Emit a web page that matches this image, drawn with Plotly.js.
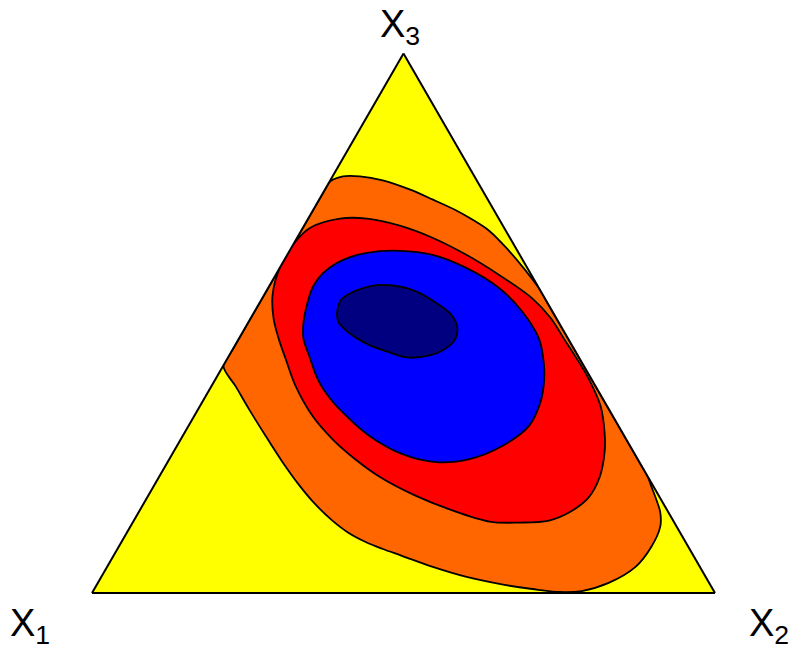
<!DOCTYPE html>
<html>
<head>
<meta charset="utf-8">
<script src="https://cdn.plot.ly/plotly-3.0.1.min.js"></script>
<style>
  html, body { margin: 0; padding: 0; background: #ffffff; }
  #chart { width: 790px; height: 654px; }
</style>
</head>
<body>
<div id="chart"></div>
<script>
// Contour levels of a density on the simplex X1 + X2 + X3 = 1.
// Each level is a closed outline given as composition fractions.

// Level 1 (orange)
const orangeX1 = [0.40, 0.30, 0.2687, 0.2519, 0.2359, 0.2109, 0.1837, 0.1509, 0.1162, 0.0888, 0.0607, 0.0435, 0.0268, 0.0135, 0.0051, 0.0, 0.0, 0.0, 0.0, 0.0, 0.0033, 0.0075, 0.0132, 0.0263, 0.0592, 0.1033, 0.1614, 0.2119, 0.2495, 0.2896, 0.3377, 0.3838, 0.4287, 0.4680, 0.4933, 0.5140, 0.5326, 0.5470, 0.5592, 0.5677, 0.5728, 0.5757, 0.5776, 0.5778, 0.5784, 0.55, 0.40];
const orangeX2 = [0.0, 0.0, 0.0, 0.0, 0.001, 0.0167, 0.0439, 0.0842, 0.1357, 0.1817, 0.2303, 0.2643, 0.3016, 0.3522, 0.3979, 0.4347, 0.46, 0.60, 0.76, 0.7836, 0.7989, 0.8190, 0.8375, 0.8506, 0.8550, 0.8482, 0.8199, 0.7844, 0.7486, 0.7029, 0.6455, 0.5863, 0.5228, 0.4630, 0.4246, 0.3909, 0.3555, 0.3187, 0.2766, 0.2308, 0.1847, 0.1333, 0.0810, 0.0397, 0.0, 0.0, 0.0];
const orangeX3 = [0.60, 0.70, 0.7313, 0.7481, 0.7631, 0.7724, 0.7724, 0.7649, 0.7481, 0.7295, 0.7090, 0.6922, 0.6716, 0.6343, 0.5970, 0.5653, 0.54, 0.40, 0.24, 0.2164, 0.1978, 0.1735, 0.1493, 0.1231, 0.0858, 0.0485, 0.0187, 0.0037, 0.0019, 0.0075, 0.0168, 0.0299, 0.0485, 0.0690, 0.0821, 0.0951, 0.1119, 0.1343, 0.1642, 0.2015, 0.2425, 0.2910, 0.3414, 0.3825, 0.4216, 0.45, 0.60];

// Level 2 (red)
const redX1 = [0.4341, 0.3974, 0.3526, 0.3110, 0.2548, 0.2117, 0.1656, 0.1242, 0.0857, 0.0517, 0.0205, 0.0089, 0.0068, 0.0047, 0.0042, 0.0103, 0.0280, 0.0466, 0.0779, 0.1142, 0.1559, 0.1994, 0.2490, 0.2959, 0.3484, 0.3912, 0.4281, 0.4535, 0.4715, 0.4820, 0.4813, 0.4720, 0.4645, 0.4539, 0.4341];
const redX2 = [0.0137, 0.0, 0.0, 0.0118, 0.0512, 0.0943, 0.1534, 0.2172, 0.2874, 0.3587, 0.4329, 0.4818, 0.5212, 0.5606, 0.5984, 0.6427, 0.6735, 0.6922, 0.7075, 0.7086, 0.6930, 0.6663, 0.6204, 0.5716, 0.4967, 0.4278, 0.3592, 0.2984, 0.2431, 0.1896, 0.1344, 0.0933, 0.0635, 0.0368, 0.0137];
const redX3 = [0.5522, 0.6026, 0.6474, 0.6772, 0.6940, 0.6940, 0.6810, 0.6586, 0.6269, 0.5896, 0.5466, 0.5093, 0.4720, 0.4347, 0.3974, 0.3470, 0.2985, 0.2612, 0.2146, 0.1772, 0.1511, 0.1343, 0.1306, 0.1325, 0.1549, 0.1810, 0.2127, 0.2481, 0.2854, 0.3284, 0.3843, 0.4347, 0.4720, 0.5093, 0.5522];

// Level 3 (blue)
const blueX1 = [0.4107, 0.3857, 0.3603, 0.3322, 0.2882, 0.2434, 0.1890, 0.1399, 0.0979, 0.0639, 0.0486, 0.0467, 0.0620, 0.0806, 0.1056, 0.1436, 0.2053, 0.2701, 0.3256, 0.3761, 0.4104, 0.4285, 0.4375, 0.4398, 0.4319, 0.4247, 0.4107];
const blueX2 = [0.0893, 0.0770, 0.0707, 0.0745, 0.0943, 0.1260, 0.1767, 0.2332, 0.2995, 0.3708, 0.4290, 0.4813, 0.5126, 0.5313, 0.5437, 0.5467, 0.5223, 0.4818, 0.4319, 0.3646, 0.2967, 0.2413, 0.2024, 0.1665, 0.1297, 0.1033, 0.0893];
const blueX3 = [0.5, 0.5373, 0.5690, 0.5933, 0.6175, 0.6306, 0.6343, 0.6269, 0.6026, 0.5653, 0.5224, 0.4720, 0.4254, 0.3881, 0.3507, 0.3097, 0.2724, 0.2481, 0.2425, 0.2593, 0.2929, 0.3302, 0.3601, 0.3937, 0.4384, 0.4720, 0.5];

// Level 4 (navy, the mode region)
const navyX1 = [0.3452, 0.3312, 0.3145, 0.2881, 0.2525, 0.2044, 0.1753, 0.1649, 0.1682, 0.1840, 0.2126, 0.2380, 0.2765, 0.3028, 0.3243, 0.3385, 0.3479, 0.3531, 0.3452];
const navyX2 = [0.1324, 0.1278, 0.1333, 0.1485, 0.1766, 0.2340, 0.2911, 0.3220, 0.3411, 0.3477, 0.3378, 0.3217, 0.2869, 0.2494, 0.2167, 0.1895, 0.1670, 0.1432, 0.1324];
const navyX3 = [0.5224, 0.5410, 0.5522, 0.5634, 0.5709, 0.5616, 0.5336, 0.5131, 0.4907, 0.4683, 0.4496, 0.4403, 0.4366, 0.4478, 0.4590, 0.4720, 0.4851, 0.5037, 0.5224];

const levels = [
  { x1: orangeX1, x2: orangeX2, x3: orangeX3, color: '#ff6600' },
  { x1: redX1,    x2: redX2,    x3: redX3,    color: '#ff0000' },
  { x1: blueX1,   x2: blueX2,   x3: blueX3,   color: '#0000ff' },
  { x1: navyX1,   x2: navyX2,   x3: navyX3,   color: '#000080' }
];

const axisLabels = ['X<sub>1</sub>', 'X<sub>2</sub>', 'X<sub>3</sub>'];

// Ternary mapping: a = X3 (top), b = X1 (bottom left), c = X2 (bottom right)
const traces = levels.map(lv => ({
  type: 'scatterternary',
  mode: 'lines',
  a: lv.x3,
  b: lv.x1,
  c: lv.x2,
  fill: 'toself',
  fillcolor: lv.color,
  line: { color: '#000000', width: 1.8, shape: 'spline', smoothing: 1 },
  hoverinfo: 'skip',
  showlegend: false
}));

const hiddenAxis = {
  showline: true,
  linecolor: '#000000',
  linewidth: 2,
  showgrid: false,
  showticklabels: false,
  ticks: '',
  ticklen: 0,
  title: { text: '' }
};

const W = 790, H = 654;
const labelFont = { family: 'Liberation Sans, Arial, sans-serif', size: 38, color: '#000000' };

const layout = {
  width: W,
  height: H,
  margin: { l: 0, r: 0, t: 0, b: 0 },
  paper_bgcolor: '#ffffff',
  showlegend: false,
  ternary: {
    sum: 1,
    bgcolor: '#ffff00',
    domain: { x: [92 / W, 715 / W], y: [0.0657, 0.9457] },
    aaxis: hiddenAxis,
    baxis: hiddenAxis,
    caxis: hiddenAxis
  },
  annotations: [
    { text: axisLabels[0], xref: 'paper', yref: 'paper', x: 30 / W, y: 1 - 626 / H,
      xanchor: 'center', yanchor: 'middle', showarrow: false, font: labelFont },
    { text: axisLabels[1], xref: 'paper', yref: 'paper', x: 769 / W, y: 1 - 626 / H,
      xanchor: 'center', yanchor: 'middle', showarrow: false, font: labelFont },
    { text: axisLabels[2], xref: 'paper', yref: 'paper', x: 400 / W, y: 1 - 27 / H,
      xanchor: 'center', yanchor: 'middle', showarrow: false, font: labelFont }
  ]
};

Plotly.newPlot('chart', traces, layout, { displayModeBar: false, staticPlot: true });
</script>
</body>
</html>
